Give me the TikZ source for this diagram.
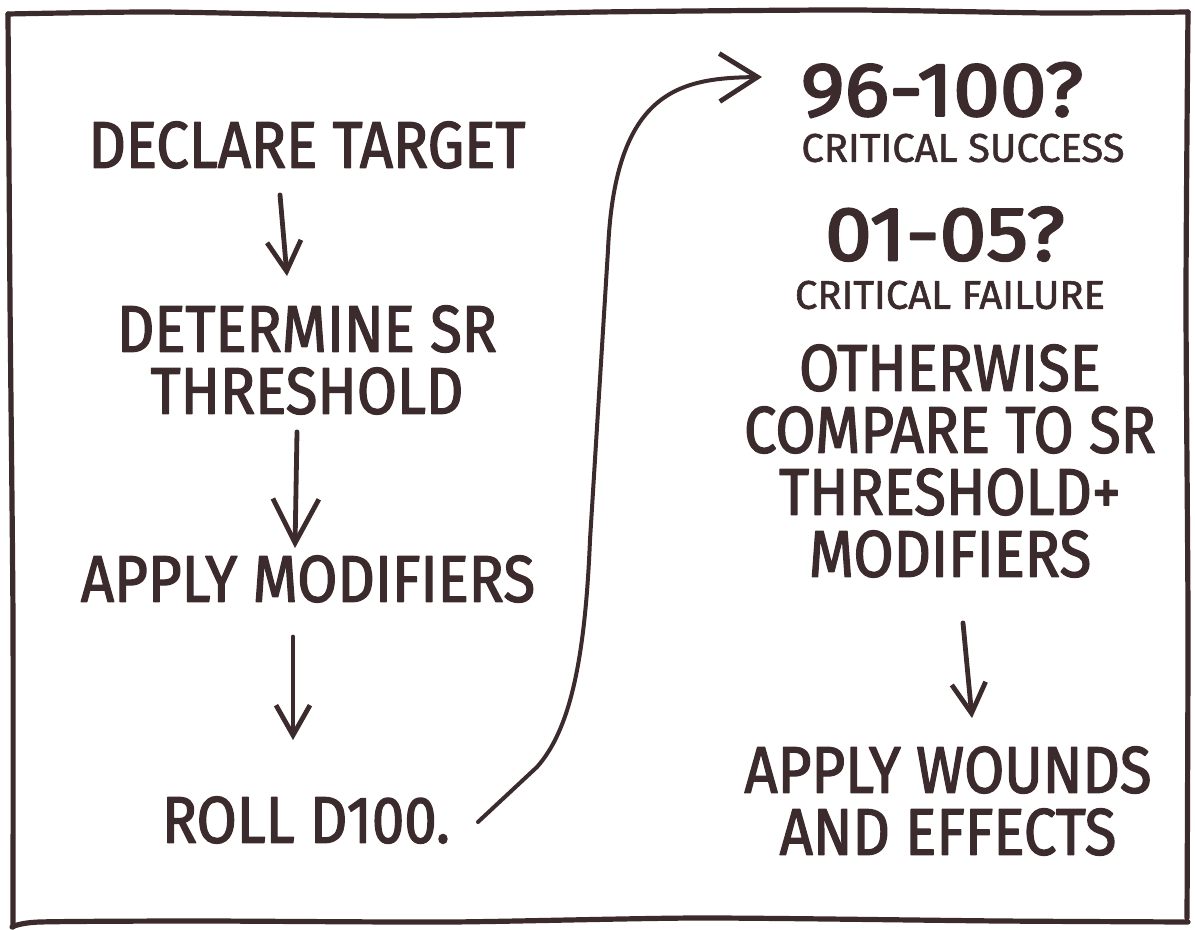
\documentclass[tikz,border=0pt]{standalone}
\usepackage{fontspec}
\setmainfont{Fira Sans}[FakeStretch=0.88, FakeBold=2]
\newfontfamily\rangefont{Fira Sans}[FakeStretch=1.1, FakeBold=3]
\newfontfamily\notefont{Fira Sans}[FakeStretch=1.0, FakeBold=1.5]
\usetikzlibrary{arrows.meta,calc,positioning}
\definecolor{inkbrown}{RGB}{60,43,44}

\begin{document}
\begin{tikzpicture}[x=0.5pt, y=-0.5pt, line cap=round, line join=round,
  every node/.style={inner sep=0pt, text=inkbrown, align=center},
  steptext/.style={font=\fontsize{33}{31}\selectfont},
  notetext/.style={font=\notefont\fontsize{20}{24}\selectfont},
  rangetext/.style={font=\rangefont\fontsize{38}{40}\selectfont},
  flow/.style={draw=inkbrown, line width=2.4pt,
    -{Straight Barb[length=15pt, width=17pt]}},
  bigflow/.style={flow, -{Straight Barb[length=22pt, width=23pt]}},
  frame/.style={draw=inkbrown, line width=2.6pt}]
  \fill[white] (0,0) rectangle (1195,930);
  \useasboundingbox (0,0) rectangle (1195,930);

  % panel border
  \draw[frame] plot[smooth, tension=0.4] coordinates
    {(8,14) (160,12) (400,16) (600,12) (850,10) (1050,13) (1188,12)};
  \draw[frame] plot[smooth, tension=0.4] coordinates
    {(1188,12) (1186,300) (1188,620) (1187,918)};
  \draw[frame] plot[smooth, tension=0.4] coordinates
    {(12,927) (40,922) (200,921) (450,922) (700,918) (1000,921) (1188,922)};
  \draw[frame] plot[smooth, tension=0.4] coordinates
    {(8,14) (10,300) (13,620) (13,927)};

  % left column
  \node[steptext] (declare) at (307,145) {DECLARE TARGET};
  \node[steptext] (threshold) at (307,360) {DETERMINE SR\\THRESHOLD};
  \node[steptext] (modify) at (308,579) {APPLY MODIFIERS};
  \node[steptext] (roll) at (306,820) {ROLL D100.};

  % right column
  \node[rangetext] (high) at (942,90) {96-100?};
  \node[notetext] (success) at (963,148) {CRITICAL SUCCESS};
  \node[rangetext] (low) at (945,234) {01-05?};
  \node[notetext] (failure) at (950,295) {CRITICAL FAILURE};
  \node[steptext] (compare) at (950,461) {OTHERWISE\\COMPARE TO SR\\THRESHOLD+\\MODIFIERS};
  \node[steptext] (wounds) at (948,801) {APPLY WOUNDS\\AND EFFECTS};

  % arrows
  \draw[flow] ($(declare.south)+(-27,26)$) -- ($(threshold.north)+(-20,-29)$);
  \draw[bigflow] ($(threshold.south)+(-10,17)$) -- ($(modify.north)+(-13,-7)$);
  \draw[flow] ($(modify.south)+(-15,34)$) -- ($(roll.north)+(-13,-56)$);
  \draw[flow] ($(compare.south)+(13,45)$) -- ($(wounds.north)+(24,-28)$);

  % roll result over to the checks
  \draw[flow, line width=2pt, -{Straight Barb[length=19pt, width=24pt, line width=2.4pt]}]
    ($(roll.center)+(172,2)$)
    -- (537,767)
    .. controls (570,730) and (585,660) .. (590,540)
    -- (608,250)
    .. controls (615,90) and (680,78) .. ($(high.center)+(-180,-13)$);
\end{tikzpicture}
\end{document}
